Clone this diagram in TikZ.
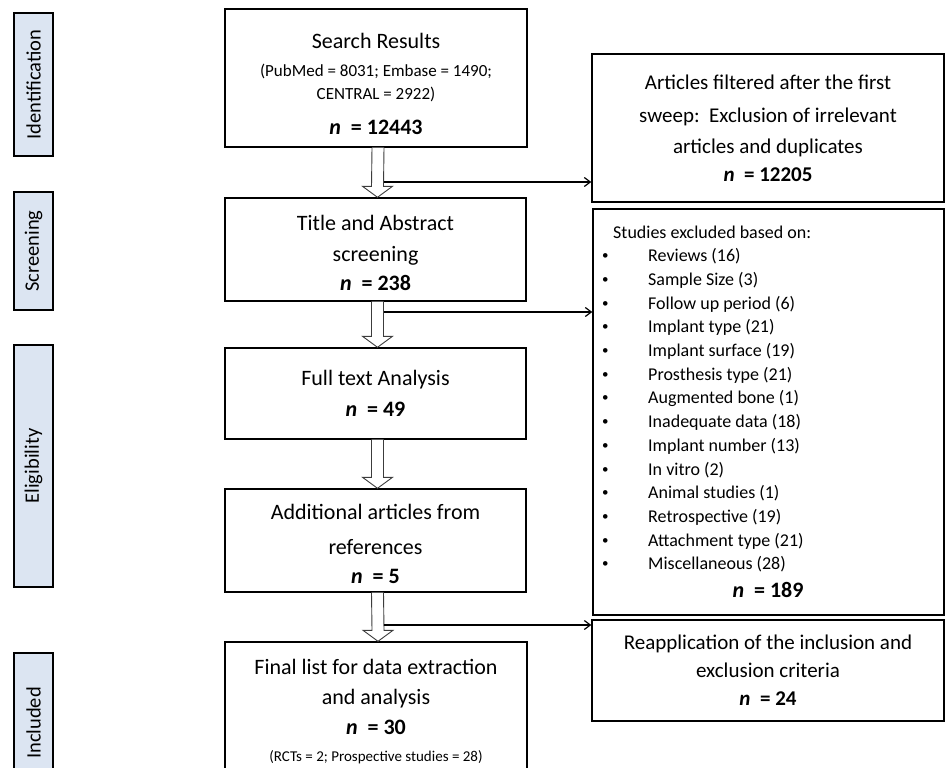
\documentclass[tikz,border=0pt]{standalone}
\usepackage{fontspec}
\setmainfont{Carlito}
\usepackage{tikz}
\usetikzlibrary{arrows.meta, positioning, calc}
\definecolor{phasefill}{RGB}{220, 229, 242}
\definecolor{flowgray}{RGB}{60, 60, 60}
\newcommand{\subfont}{\fontsize{17}{23}\selectfont}
\newcommand{\smallfont}{\fontsize{15}{20}\selectfont}
\newcommand{\nval}[1]{\textbf{\textit{n}\ \ = #1}}
% hollow block arrow from the bottom of one box to the top of the next
\newcommand{\downflow}[2]{%
    \draw[fatline] ($(#1.south)+(-4,0)$) -- ($(#2.north)+(-4,-11)$)
        -- ($(#2.north)+(-13,-11)$) -- ($(#2.north)+(2,0)$)
        -- ($(#2.north)+(17,-11)$) -- ($(#2.north)+(8,-11)$)
        -- ($(#1.south)+(8,0)$);
}
\tikzset{
    phase/.style={rectangle, draw=black, line width=2.6pt, fill=phasefill,
        rotate=90, inner sep=0pt, minimum height=39pt,
        font=\fontsize{20.5}{24}\selectfont},
    box/.style={rectangle, draw=black, line width=1.4pt, fill=white,
        align=center, inner sep=0pt, font=\fontsize{22}{31}\selectfont},
    fatline/.style={draw=flowgray, line width=0.9pt, fill=white},
    link/.style={-{Straight Barb[length=6pt, width=9pt]}, line width=1.2pt},
    listitem/.style={anchor=base west, inner sep=0pt, font=\fontsize{18}{22}\selectfont},
    listdot/.style={anchor=base west, inner sep=0pt, font=\fontsize{13}{16}\selectfont},
}

\begin{document}
\begin{tikzpicture}[x=1pt, y=-1pt]
    \useasboundingbox (0,0) rectangle (950,768);

    % phase labels
    \node[phase, minimum width=143pt] (idph) at (33.5,84.5) {Identification};
    \node[phase, minimum width=118pt] (scrph) at (33.5,251) {Screening};
    \node[phase, minimum width=242pt] (eligph) at (33.5,466) {Eligibility};
    \node[phase, minimum width=140pt] (inclph) at (33.5,723) {Included};

    % main column
    \node[box, minimum width=302pt, minimum height=138pt] (search) at (376,78)
        {Search Results\\[-3pt]{\subfont (PubMed = 8031; Embase = 1490;}\\[-8pt]
         {\subfont CENTRAL = 2922)}\\[4pt]\nval{12443}\\[-43pt]};
    \node[box, minimum width=301pt, minimum height=103pt] (titleabs) at (375.5,249.5)
        {Title and Abstract\\screening\\[-2pt]\nval{238}\\[-37pt]};
    \node[box, minimum width=301pt, minimum height=91pt] (fulltext) at (375.5,393.5)
        {Full text Analysis\\\nval{49}};
    \node[box, minimum width=301pt, minimum height=103pt] (addref) at (375.5,540.5)
        {Additional articles from\\[4pt]references\\[-2pt]\nval{5}\\[-37pt]};
    \node[box, minimum width=302pt, minimum height=150pt] (final) at (376,717)
        {Final list for data extraction\\[-1pt]and analysis\\[-1pt]\nval{30}\\[-4pt]
         {\smallfont (RCTs = 2; Prospective studies = 28)}\\[-18pt]};

    % right column
    \node[box, minimum width=352pt, minimum height=148pt, font=\fontsize{21}{33}\selectfont]
        (swept) at (768,128)
        {Articles filtered after the first\\sweep:\ \ Exclusion of irrelevant\\[-2pt]
         articles and duplicates\\[-5pt]\nval{12205}};
    \node[box, minimum width=351pt, minimum height=406pt] (excl) at (768.5,412) {};
    \node[box, minimum width=352pt, minimum height=101pt, font=\fontsize{21}{28}\selectfont]
        (reapp) at (768,670.5)
        {Reapplication of the inclusion and\\exclusion criteria\\\nval{24}};

    % exclusion reasons
    \node[listitem] (exclhead) at (613,238) {Studies excluded based on:};
    \foreach \reason [count=\i] in {Reviews (16), Sample Size (3), Follow up period (6),
        Implant type (21), Implant surface (19), Prosthesis type (21), Augmented bone (1),
        Inadequate data (18), Implant number (13), In vitro (2), Animal studies (1),
        Retrospective (19), Attachment type (21), Miscellaneous (28)} {
        \node[listdot] (dot\i) at (602,236+23.7*\i) {\textbullet};
        \node[listitem] (item\i) at (648,238+23.7*\i) {\reason};
    }
    \node[listitem, anchor=base, font=\fontsize{22}{26}\selectfont] (exclnum) at (768,597)
        {\nval{189}};

    % flow arrows
    \downflow{search}{titleabs}
    \downflow{titleabs}{fulltext}
    \downflow{fulltext}{addref}
    \downflow{addref}{final}

    % side exits
    \coordinate (out1) at (384,182);
    \coordinate (out2) at (384,312);
    \coordinate (out3) at (384,625);
    \draw[link] (out1) -- (out1 -| swept.west);
    \draw[link] (out2) -- (out2 -| excl.west);
    \draw[link] (out3) -- (out3 -| reapp.west);
\end{tikzpicture}
\end{document}
